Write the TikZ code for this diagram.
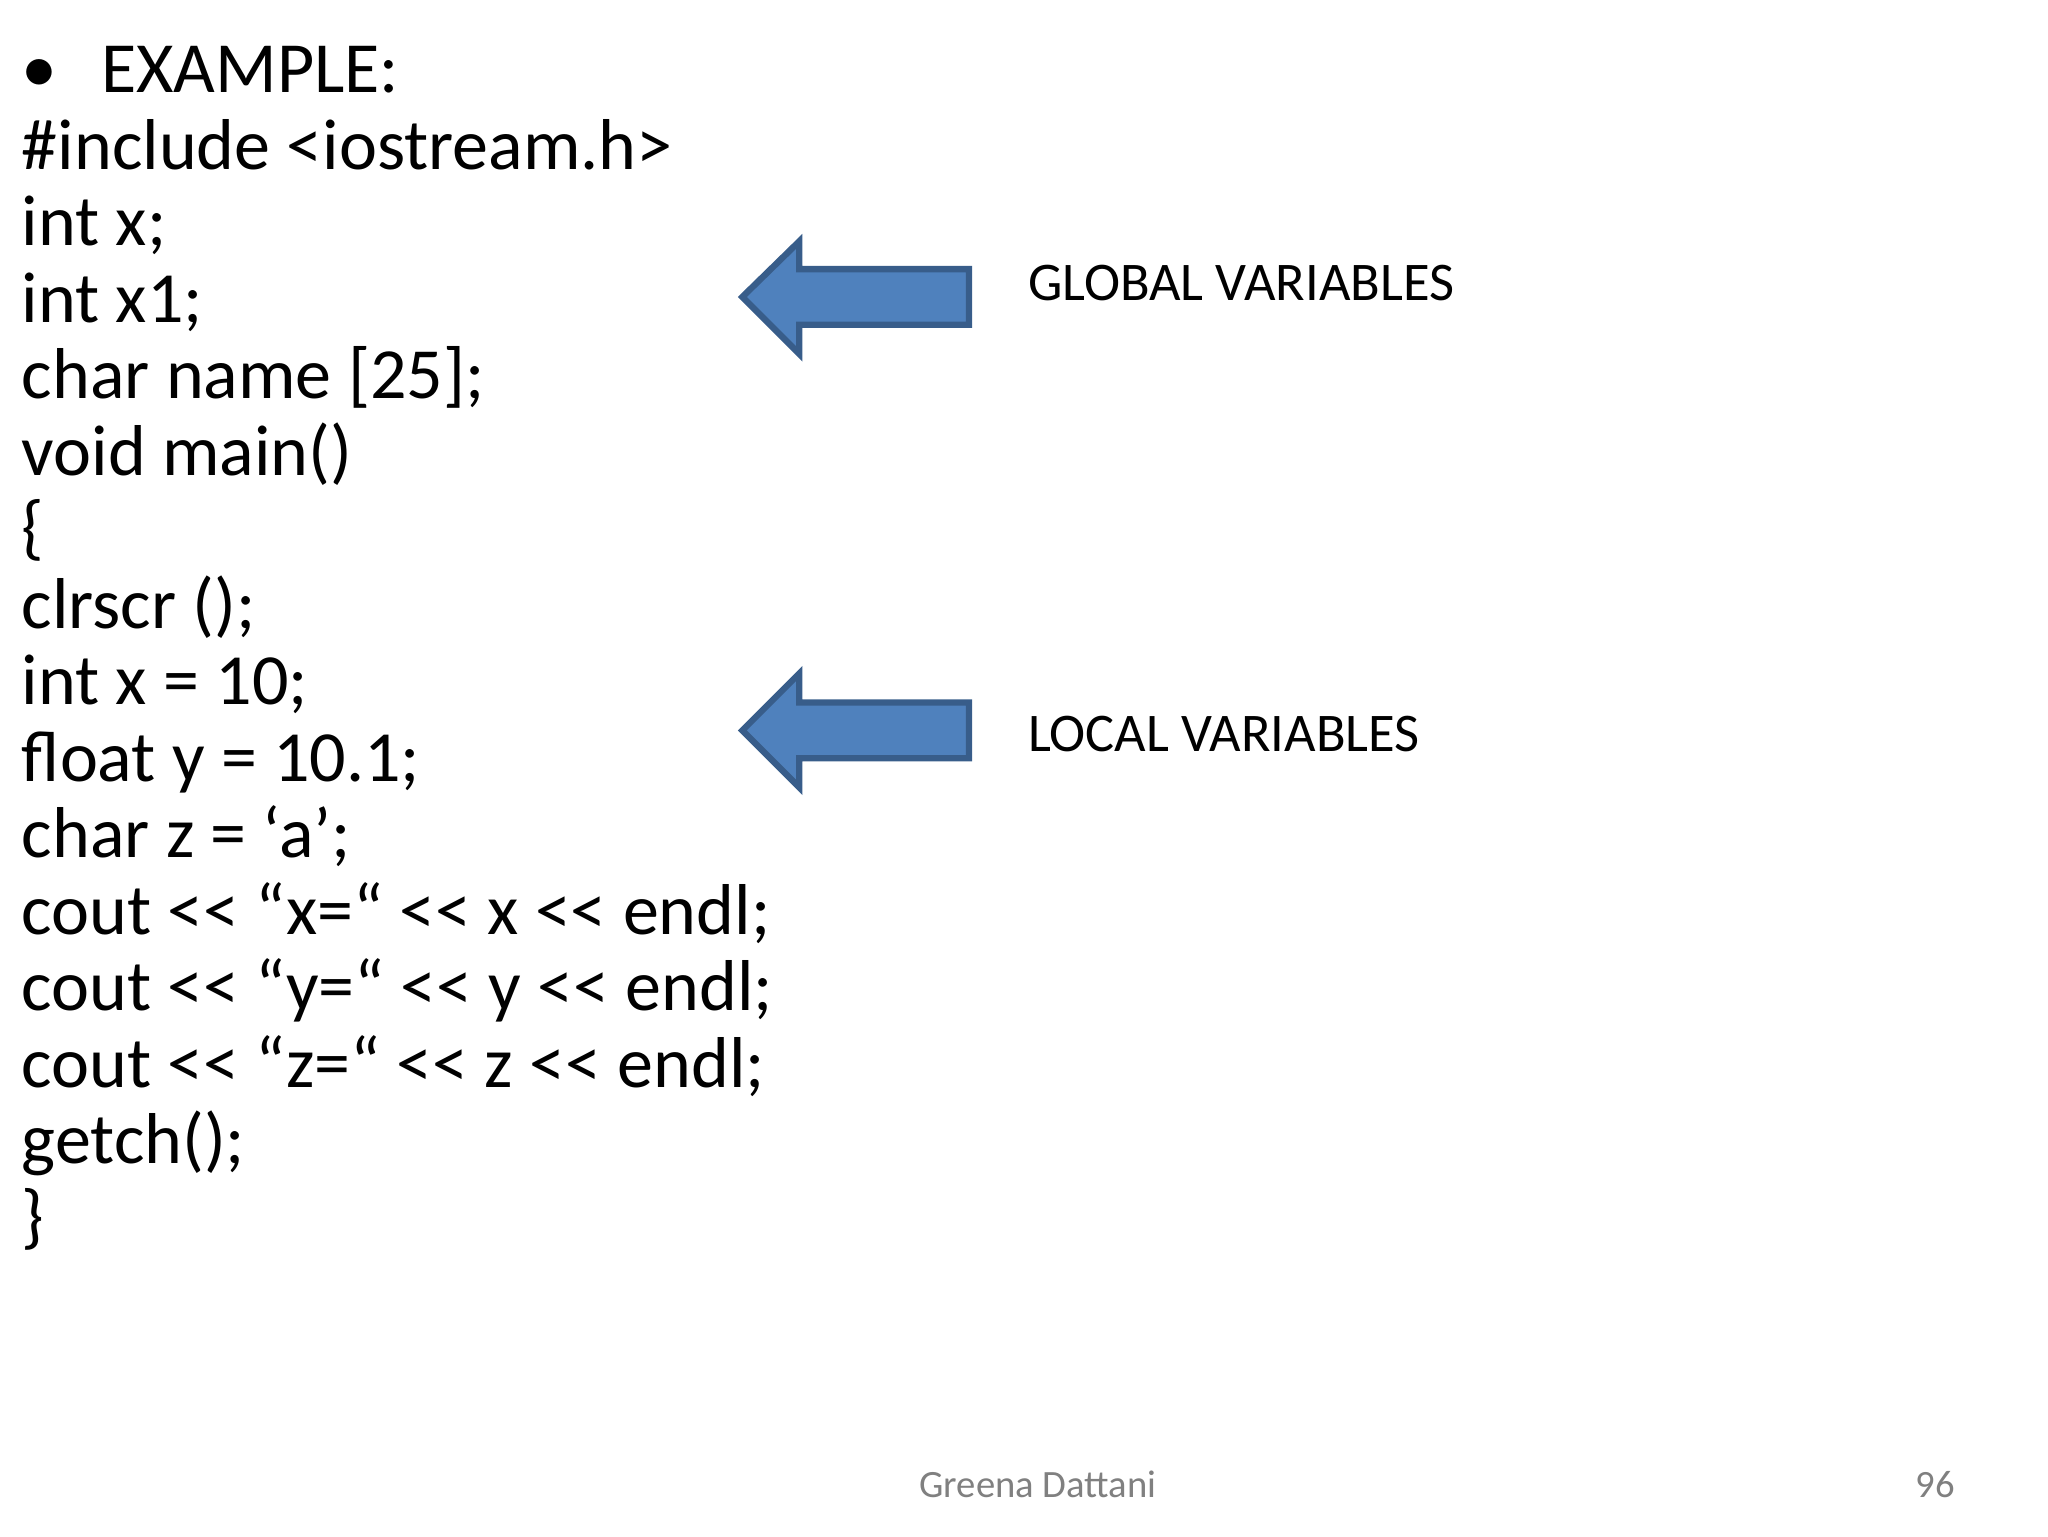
\documentclass[tikz,border=0pt]{standalone}
\usepackage{fontspec}
\newfontfamily\cf{Carlito}
\definecolor{arrfill}{HTML}{4F81BD}
\definecolor{arrdraw}{HTML}{385D8A}
\begin{document}
\begin{tikzpicture}[x=0.013256cm,y=-0.013256cm,
  code/.style={anchor=base west,inner sep=0pt,font=\cf\fontsize{20.5}{24}\selectfont},
  lab/.style={anchor=base west,inner sep=0pt,font=\cf\fontsize{15.5}{18}\selectfont},
  foot/.style={anchor=base,inner sep=0pt,text=gray,font=\cf\fontsize{11}{13}\selectfont},
  bigarrow/.style={fill=arrfill,draw=arrdraw,line width=1.8pt,line join=miter}]
\useasboundingbox (0,0) rectangle (1545,1159);
\node[code] (b) at (16,70) {•};
\node[code] (ex) at (76,70) {EXAMPLE:};
\foreach \t [count=\i] in {\#include <iostream.h>,int x;,int x1;,char name [25];,void main(),\{,clrscr ();,int x = 10;,float y = 10.1;,char z = ‘a’;,cout << “x=“ << x << endl;,cout << “y=“ << y << endl;,cout << “z=“ << z << endl;,getch();,\}}
  \node[code] (l\i) at (16,{70+57.7*\i}) {\t};
\draw[bigarrow] (560,224) -- (603,182) -- (603,203) -- (731,203) -- (731,245) -- (603,245) -- (603,267) -- cycle;
\draw[bigarrow] (560,551) -- (603,508) -- (603,530) -- (731,530) -- (731,572) -- (603,572) -- (603,594) -- cycle;
\node[lab] (g) at (775,227) {GLOBAL VARIABLES};
\node[lab] (lo) at (775,567) {LOCAL VARIABLES};
\node[foot] (f) at (783,1130) {Greena Dattani};
\node[foot] (p) at (1460,1130) {96};
\end{tikzpicture}
\end{document}
